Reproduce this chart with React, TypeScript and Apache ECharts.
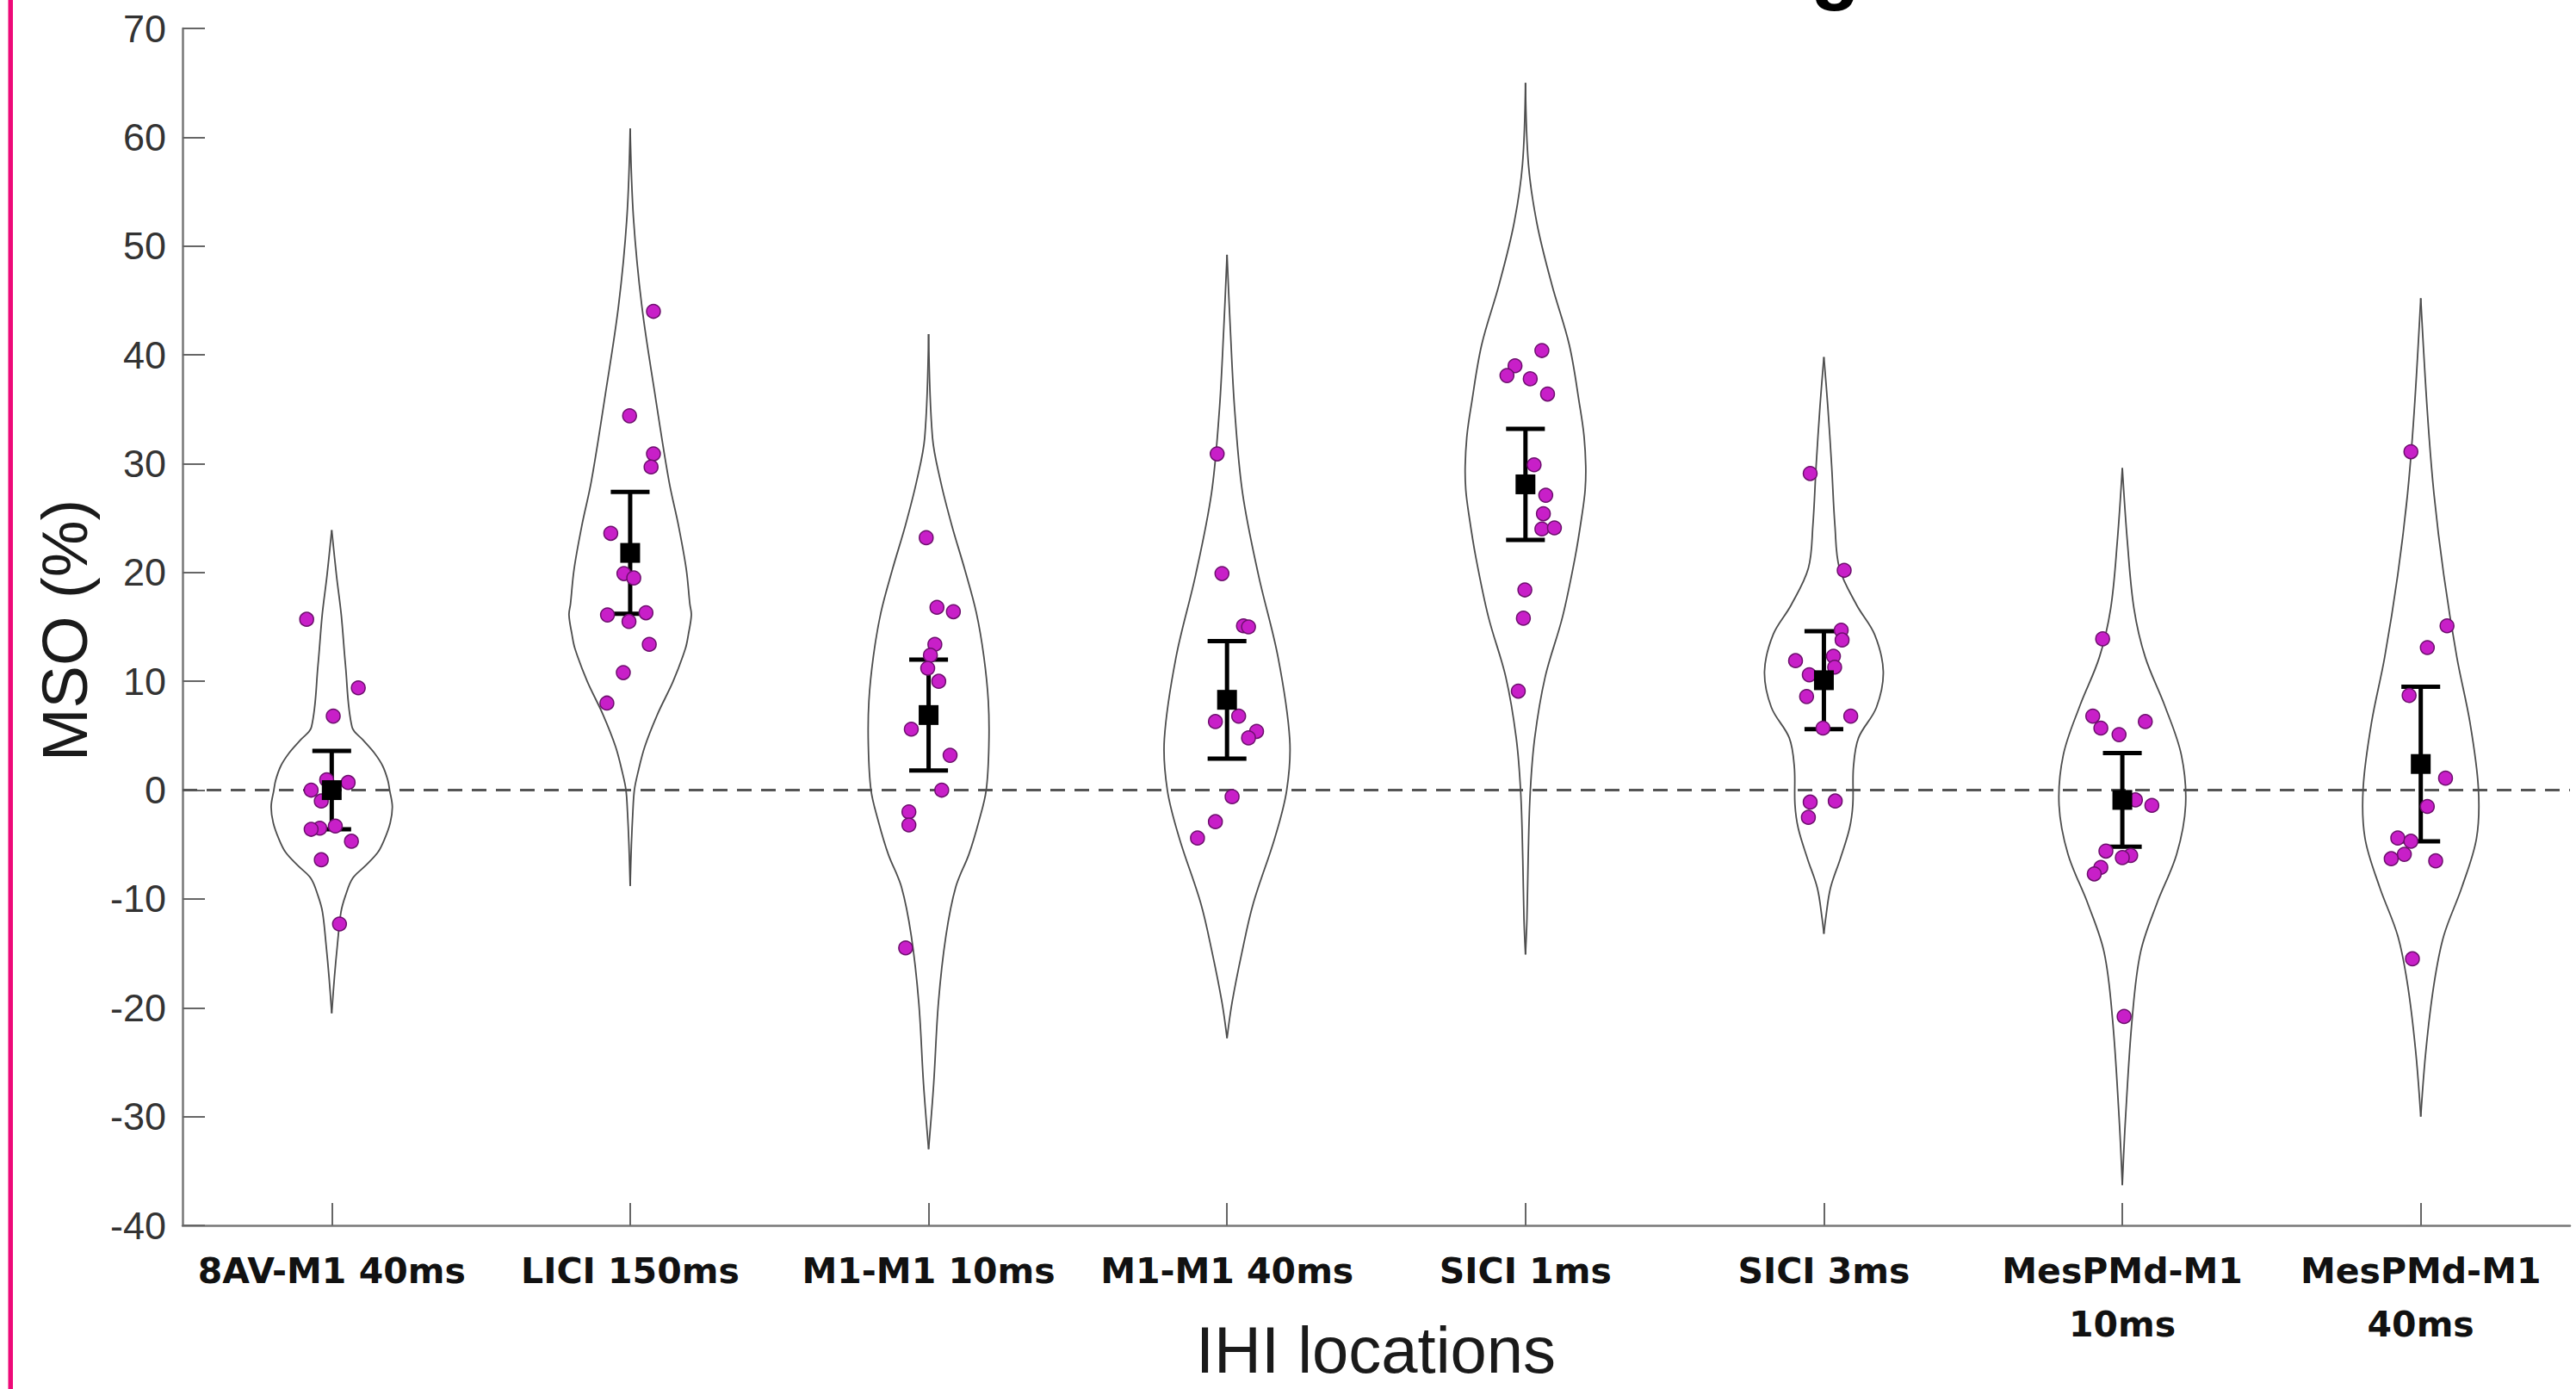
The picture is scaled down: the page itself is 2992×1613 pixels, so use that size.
import React, { useEffect, useRef } from 'react';
import * as echarts from 'echarts';

// ---------- data ----------
const categories = ['8AV-M1 40ms', 'LICI 150ms', 'M1-M1 10ms', 'M1-M1 40ms', 'SICI 1ms', 'SICI 3ms', 'MesPMd-M1 10ms', 'MesPMd-M1 40ms'];
const tickLabels = ['8AV-M1 40ms', 'LICI 150ms', 'M1-M1 10ms', 'M1-M1 40ms', 'SICI 1ms', 'SICI 3ms', 'MesPMd-M1\n10ms', 'MesPMd-M1\n40ms'];
const yMin = -40;
const yMax = 70;
const yStep = 10;

// group means and error (SEM)
const means = [0.0, 21.8, 6.9, 8.3, 28.1, 10.1, -0.9, 2.4];
const sems = [3.6, 5.6, 5.1, 5.4, 5.1, 4.5, 4.3, 7.1];

// individual subjects (value) and their horizontal jitter (fraction of a category)
const dots8AV40 = [15.7, 9.4, 6.8, 0.95, 0.7, 0.0, -1.0, -3.3, -3.5, -3.6, -4.7, -6.4, -12.3];
const jit8AV40 = [-0.084, 0.089, 0.005, -0.017, 0.055, -0.069, -0.035, 0.012, -0.04, -0.069, 0.066, -0.035, 0.026];
const dotsLICI150 = [44.0, 34.4, 30.9, 29.7, 23.6, 19.9, 19.5, 16.1, 15.5, 16.3, 13.4, 10.8, 8.0];
const jitLICI150 = [0.078, -0.002, 0.078, 0.07, -0.065, -0.021, 0.012, -0.076, -0.004, 0.053, 0.064, -0.023, -0.078];
const dotsM1M110 = [23.2, 16.8, 16.4, 13.4, 12.4, 11.2, 10.0, 5.6, 3.2, 0.0, -2.0, -3.2, -14.5];
const jitM1M110 = [-0.008, 0.028, 0.083, 0.021, 0.006, -0.003, 0.034, -0.058, 0.072, 0.044, -0.066, -0.066, -0.077];
const dotsM1M140 = [30.9, 19.9, 15.1, 15.0, 6.3, 6.8, 5.4, 4.8, -0.6, -2.9, -4.4];
const jitM1M140 = [-0.033, -0.017, 0.055, 0.072, -0.039, 0.039, 0.099, 0.072, 0.017, -0.039, -0.099];
const dotsSICI1 = [40.4, 39.0, 38.1, 37.8, 36.4, 29.9, 27.1, 25.4, 24.0, 24.1, 18.4, 15.8, 9.1];
const jitSICI1 = [0.055, -0.035, -0.062, 0.016, 0.074, 0.029, 0.068, 0.06, 0.055, 0.097, -0.002, -0.007, -0.024];
const dotsSICI3 = [29.1, 20.2, 14.7, 13.8, 11.9, 12.3, 11.3, 10.6, 8.6, 6.8, 5.7, -1.1, -1.0, -2.5];
const jitSICI3 = [-0.046, 0.068, 0.058, 0.061, -0.095, 0.032, 0.036, -0.049, -0.058, 0.09, -0.003, -0.046, 0.038, -0.052];
const dotsMes10 = [13.9, 6.8, 5.7, 5.1, 6.3, -0.9, -1.4, -5.6, -6.0, -6.2, -7.1, -7.7, -20.8];
const jitMes10 = [-0.066, -0.099, -0.072, -0.011, 0.077, 0.044, 0.099, -0.055, 0.028, 0.0, -0.072, -0.094, 0.006];
const dotsMes40 = [31.1, 15.1, 13.1, 8.7, 1.1, -1.5, -4.4, -4.7, -5.9, -6.3, -6.5, -15.5];
const jitMes40 = [-0.033, 0.088, 0.022, -0.039, 0.083, 0.022, -0.077, -0.033, -0.055, -0.099, 0.05, -0.028];

// violin outlines: [value, half width as fraction of a category]
const violin8AV40: [number, number][] = [[23.9, 0], [19.7, 0.016], [16.1, 0.032], [11.5, 0.046], [5.8, 0.068], [4.6, 0.105], [3.4, 0.143], [2.2, 0.171], [0.9, 0.188], [0.0, 0.194], [-1.5, 0.203], [-3.0, 0.196], [-4.5, 0.177], [-5.7, 0.155], [-6.9, 0.115], [-8.1, 0.07], [-9.7, 0.046], [-11.2, 0.031], [-14.2, 0.019], [-17.2, 0.009], [-20.5, 0]];
const violinLICI150: [number, number][] = [[60.8, 0], [52.6, 0.011], [44.5, 0.039], [36.4, 0.083], [28.4, 0.13], [24.3, 0.162], [20.3, 0.188], [17.1, 0.2], [16.1, 0.205], [14.3, 0.195], [13.0, 0.185], [10.0, 0.144], [7.0, 0.092], [4.0, 0.049], [1.5, 0.025], [0.0, 0.014], [-2.0, 0.009], [-5.1, 0.004], [-8.8, 0]];
const violinM1M110: [number, number][] = [[41.9, 0], [32.4, 0.013], [28.4, 0.04], [24.3, 0.078], [20.3, 0.121], [16.3, 0.16], [12.3, 0.185], [8.2, 0.2], [4.2, 0.202], [0.0, 0.193], [-2.9, 0.168], [-5.9, 0.135], [-8.9, 0.091], [-13.4, 0.058], [-19.5, 0.033], [-27.0, 0.017], [-33.0, 0]];
const violinM1M140: [number, number][] = [[49.2, 0], [42.4, 0.011], [34.8, 0.026], [27.3, 0.052], [19.8, 0.105], [12.2, 0.171], [4.7, 0.21], [0.0, 0.2], [-4.4, 0.16], [-10.4, 0.088], [-14.9, 0.05], [-19.5, 0.017], [-22.8, 0]];
const violinSICI1: [number, number][] = [[65.0, 0], [57.5, 0.01], [52.0, 0.039], [46.4, 0.089], [40.9, 0.147], [35.3, 0.182], [32.6, 0.196], [29.8, 0.202], [27.6, 0.2], [25.4, 0.19], [21.5, 0.167], [15.9, 0.124], [10.4, 0.066], [4.8, 0.031], [-0.2, 0.016], [-6.3, 0.009], [-11.8, 0.005], [-15.1, 0]];
const violinSICI3: [number, number][] = [[39.8, 0], [35.3, 0.013], [29.8, 0.026], [24.3, 0.037], [20.4, 0.052], [17.0, 0.11], [14.3, 0.17], [10.9, 0.199], [7.6, 0.176], [4.8, 0.116], [2.1, 0.099], [-1.3, 0.097], [-3.5, 0.086], [-6.3, 0.055], [-9.0, 0.022], [-11.8, 0.006], [-13.2, 0]];
const violinMes10: [number, number][] = [[29.6, 0], [22.8, 0.017], [16.7, 0.039], [12.2, 0.077], [7.7, 0.143], [3.2, 0.198], [-1.4, 0.212], [-5.9, 0.182], [-10.4, 0.116], [-14.9, 0.061], [-21.0, 0.033], [-30.0, 0.011], [-36.3, 0]];
const violinMes40: [number, number][] = [[45.2, 0], [34.8, 0.022], [27.3, 0.044], [19.8, 0.077], [12.2, 0.121], [6.2, 0.165], [0.2, 0.193], [-4.4, 0.187], [-8.9, 0.138], [-13.4, 0.077], [-17.9, 0.044], [-24.0, 0.017], [-30.0, 0]];

const violins = [violin8AV40, violinLICI150, violinM1M110, violinM1M140, violinSICI1, violinSICI3, violinMes10, violinMes40];
const dotGroups = [dots8AV40, dotsLICI150, dotsM1M110, dotsM1M140, dotsSICI1, dotsSICI3, dotsMes10, dotsMes40];
const jitGroups = [jit8AV40, jitLICI150, jitM1M110, jitM1M140, jitSICI1, jitSICI3, jitMes10, jitMes40];

const W = 2992;
const H = 1613;

export default function App() {
  const ref = useRef<HTMLDivElement>(null);

  useEffect(() => {
    if (!ref.current) return;
    const chart = echarts.init(ref.current, undefined, { renderer: 'svg', width: W, height: H });

    const dotData: number[][] = [];
    dotGroups.forEach((vals, i) => {
      vals.forEach((v, j) => dotData.push([i + jitGroups[i][j], v]));
    });

    const option: any = {
      animation: false,
      backgroundColor: '#ffffff',
      grid: { left: 212, right: 7, top: 33, bottom: 190, containLabel: false },
      xAxis: [
        {
          type: 'category',
          data: tickLabels,
          boundaryGap: true,
          axisLine: { show: true, onZero: false, lineStyle: { color: '#777777', width: 2.5 } },
          axisTick: { show: true, inside: true, length: 26, alignWithLabel: true, lineStyle: { color: '#666666', width: 2 } },
          axisLabel: {
            interval: 0,
            margin: 22,
            fontFamily: 'DejaVu Sans',
            fontWeight: 'bold',
            fontSize: 41,
            lineHeight: 62,
            color: '#111111',
          },
          splitLine: { show: false },
        },
        { type: 'value', min: -0.5, max: categories.length - 0.5, show: false, axisLine: { onZero: false } },
      ],
      yAxis: {
        type: 'value',
        min: yMin,
        max: yMax,
        interval: yStep,
        axisLine: { show: true, onZero: false, lineStyle: { color: '#777777', width: 2.5 } },
        axisTick: { show: true, inside: true, length: 26, lineStyle: { color: '#666666', width: 2 } },
        axisLabel: { margin: 19, fontSize: 45, fontFamily: 'Liberation Sans', color: '#333333' },
        splitLine: { show: false },
      },
      graphic: [
        { type: 'rect', shape: { x: 9.5, y: 0, width: 5.5, height: H }, style: { fill: '#ee0a78' } },
        {
          type: 'text', x: 1588, y: -38,
          style: { text: 'MSO Values Across Brain Regions', fontSize: 93, fontWeight: 'bold', fontFamily: 'Liberation Sans', fill: '#000000', align: 'center', verticalAlign: 'middle' },
        },
        {
          type: 'text', x: 75, y: 732, rotation: Math.PI / 2,
          style: { text: 'MSO (%)', fontSize: 74, fontFamily: 'Liberation Sans', fill: '#1a1a1a', align: 'center', verticalAlign: 'middle' },
        },
        {
          type: 'text', x: 1598, y: 1567,
          style: { text: 'IHI locations', fontSize: 76, lineHeight: 76, fontFamily: 'Liberation Sans', fill: '#1a1a1a', align: 'center', verticalAlign: 'middle' },
        },
      ],
      series: [
        {
          type: 'custom',
          name: 'violins',
          xAxisIndex: 1,
          yAxisIndex: 0,
          data: categories.map((_, i) => [i, 0]),
          z: 2,
          renderItem: (params: any, api: any) => {
            const idx = api.value(0);
            const prof = violins[idx];
            const band = api.size([1, 0])[0];
            const rightPts = prof.map(([v, w]) => {
              const p = api.coord([idx, v]);
              return [p[0] + w * band, p[1]];
            });
            const leftPts = prof.map(([v, w]) => {
              const p = api.coord([idx, v]);
              return [p[0] - w * band, p[1]];
            });
            const st = { fill: 'none', stroke: '#4d4d4d', lineWidth: 1.8 };
            return {
              type: 'group',
              children: [
                { type: 'polyline', shape: { points: rightPts, smooth: 0.35 }, style: st },
                { type: 'polyline', shape: { points: leftPts, smooth: 0.35 }, style: st },
              ],
            };
          },
        },
        {
          type: 'custom',
          name: 'error',
          xAxisIndex: 1,
          yAxisIndex: 0,
          data: means.map((m, i) => [i, m, sems[i]]),
          z: 3,
          renderItem: (params: any, api: any) => {
            const i = api.value(0);
            const m = api.value(1);
            const e = api.value(2);
            const top = api.coord([i, m + e]);
            const bot = api.coord([i, m - e]);
            const band = api.size([1, 0])[0];
            const cap = 0.065 * band;
            const st = { stroke: '#000000', lineWidth: 5 };
            return {
              type: 'group',
              children: [
                { type: 'line', shape: { x1: top[0], y1: top[1], x2: bot[0], y2: bot[1] }, style: st },
                { type: 'line', shape: { x1: top[0] - cap, y1: top[1], x2: top[0] + cap, y2: top[1] }, style: st },
                { type: 'line', shape: { x1: bot[0] - cap, y1: bot[1], x2: bot[0] + cap, y2: bot[1] }, style: st },
              ],
            };
          },
        },
        {
          type: 'scatter',
          name: 'subjects',
          xAxisIndex: 1,
          yAxisIndex: 0,
          data: dotData,
          symbol: 'circle',
          symbolSize: 16,
          z: 4,
          itemStyle: { color: '#c81fc8', borderColor: '#6d0f6d', borderWidth: 1.5, opacity: 1 },
          markLine: {
            silent: true,
            symbol: ['none', 'none'],
            label: { show: false },
            lineStyle: { type: [17, 11], color: '#555555', width: 3 },
            data: [{ yAxis: 0 }],
            z: 1,
          },
        },
        {
          type: 'scatter',
          name: 'mean',
          xAxisIndex: 1,
          yAxisIndex: 0,
          data: means.map((m, i) => [i, m]),
          symbol: 'rect',
          symbolSize: 23,
          z: 5,
          itemStyle: { color: '#000000', opacity: 1 },
        },
      ],
    };

    chart.setOption(option);
    return () => chart.dispose();
  }, []);

  return <div ref={ref} style={{ position: 'absolute', left: 0, top: 0, width: W, height: H, background: '#fff' }} />;
}
